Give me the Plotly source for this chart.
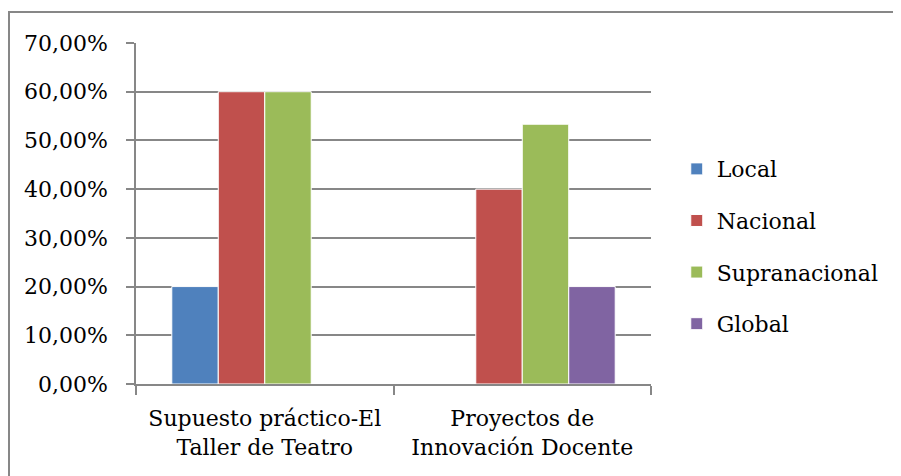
import plotly.graph_objects as go

categories = ["Supuesto práctico-El<br>Taller de Teatro", "Proyectos de<br>Innovación Docente"]
series_names = ["Local", "Nacional", "Supranacional", "Global"]
local = [0.20, 0.0]
nacional = [0.60, 0.40]
supranacional = [0.60, 0.5333]
global_ = [0.0, 0.20]
colors = ["#4F81BD", "#C0504D", "#9BBB59", "#8064A2"]
y_ticks = [0, 0.1, 0.2, 0.3, 0.4, 0.5, 0.6, 0.7]

FONT = "DejaVu Serif"
FS = 22
GRAY = "#878787"

fig = go.Figure()
for name, vals, col in zip(series_names, [local, nacional, supranacional, global_], colors):
    fig.add_trace(go.Bar(
        x=categories, y=vals, name=name, legendgroup=name,
        marker=dict(color=col, line=dict(color="white", width=1)),
    ))

fig.update_layout(
    width=893, height=468,
    margin=dict(l=128, r=250, t=35, b=92, autoexpand=False),
    paper_bgcolor="white", plot_bgcolor="white",
    barmode="group", bargap=0.278, bargroupgap=0,
    separators=",.",
    font=dict(family=FONT, size=FS, color="black"),
    legend=dict(x=1.05, y=0.403, xanchor="left", yanchor="middle",
                font=dict(family=FONT, size=FS, color="black"),
                tracegroupgap=20, bgcolor="rgba(0,0,0,0)"),
    shapes=[dict(type="rect", xref="paper", yref="paper",
                 x0=-0.2466, x1=1.6, y0=-0.5, y1=1.091,
                 line=dict(color=GRAY, width=2), fillcolor="rgba(0,0,0,0)", layer="below")],
)
fig.update_yaxes(range=[0, 0.7], tickvals=y_ticks, tickformat=".2%",
                 showgrid=True, gridcolor=GRAY, gridwidth=1.5,
                 showline=True, linecolor=GRAY, linewidth=1.5,
                 ticks="outside", ticklen=8, tickcolor=GRAY, tickwidth=1.5,
                 ticklabelstandoff=14, zeroline=False)
fig.update_xaxes(showline=True, linecolor=GRAY, linewidth=1.5,
                 ticks="outside", tickson="boundaries", ticklen=9,
                 tickcolor=GRAY, tickwidth=1.5, showgrid=False,
                 ticklabelstandoff=14)

fig.write_html("out.html")
